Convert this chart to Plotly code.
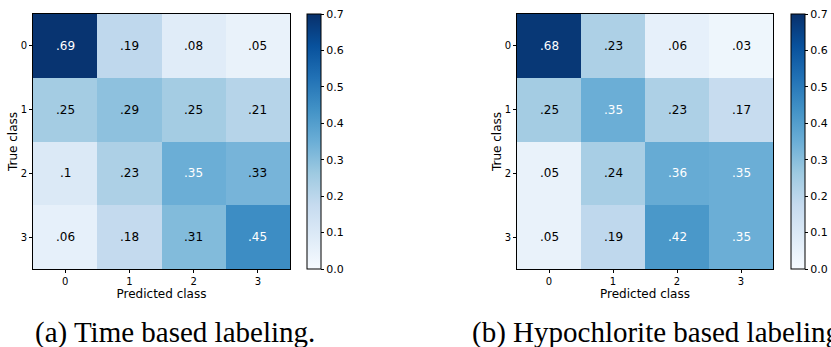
import plotly.graph_objects as go

classes = [0, 1, 2, 3]
time_vals = [
    [0.69, 0.19, 0.08, 0.05],
    [0.25, 0.29, 0.25, 0.21],
    [0.10, 0.23, 0.35, 0.33],
    [0.06, 0.18, 0.31, 0.45],
]
hypo_vals = [
    [0.68, 0.23, 0.06, 0.03],
    [0.25, 0.35, 0.23, 0.17],
    [0.05, 0.24, 0.36, 0.35],
    [0.05, 0.19, 0.42, 0.35],
]
cbar_ticks = [0.0, 0.1, 0.2, 0.3, 0.4, 0.5, 0.6, 0.7]
captions = ["(a) Time based labeling.", "(b) Hypochlorite based labeling."]

W, H = 831, 347
def px(x): return x / W
def py(y): return 1 - y / H

fig = go.Figure()
panels = [
    (time_vals, (33, 290), 307, "x", "y", "", ""),
    (hypo_vals, (517, 773), 791, "x2", "y2", "2", "2"),
]
top, bot = 14, 269
annotations = []
for vals, (x0, x1), cbx, xa, ya, xs, ys in panels:
    fig.add_trace(go.Heatmap(
        z=vals, x=classes, y=classes, colorscale="Blues", zmin=0, zmax=0.7,
        xaxis=xa, yaxis=ya, hoverinfo="skip",
        colorbar=dict(
            x=px(cbx), xanchor="left", xref="paper",
            y=py((top + bot) / 2), yanchor="middle",
            len=bot - top, lenmode="pixels",
            thickness=14, thicknessmode="pixels",
            outlinewidth=1, outlinecolor="black",
            tickvals=cbar_ticks, ticktext=[f"{t:.1f}" for t in cbar_ticks],
            ticks="outside", ticklen=3, tickcolor="black",
            tickfont=dict(family="DejaVu Sans", size=11, color="black"),
            xpad=0, ypad=0,
        ),
    ))
    vmax = max(max(r) for r in vals)
    for i, row in enumerate(vals):
        for j, v in enumerate(row):
            s = f"{v:.2f}".lstrip("0")
            if s.endswith("0"):
                s = s[:-1]
            annotations.append(dict(
                x=classes[j], y=classes[i], xref=xa, yref=ya, text=s, showarrow=False,
                font=dict(family="DejaVu Sans", size=12,
                          color="white" if v > vmax / 2 else "black"),
            ))
    axcommon = dict(showline=True, mirror=True, linecolor="black", linewidth=1,
                    ticks="outside", ticklen=3, tickcolor="black", showgrid=False,
                    zeroline=False, tickvals=classes, automargin=False,
                    tickfont=dict(family="DejaVu Sans", size=10, color="black"))
    fig.layout["xaxis" + xs] = dict(domain=[px(x0), px(x1)], anchor=ya,
                                    title=dict(text="Predicted class", standoff=2,
                                               font=dict(family="DejaVu Sans", size=12, color="black")),
                                    **axcommon)
    fig.layout["yaxis" + ys] = dict(domain=[py(bot), py(top)], anchor=xa, autorange="reversed",
                                    title=dict(text="True class", standoff=0,
                                               font=dict(family="DejaVu Sans", size=12, color="black")),
                                    **axcommon)

annotations.append(dict(x=px(33), y=py(332), xref="paper", yref="paper", text=captions[0],
                        showarrow=False, xanchor="left", yanchor="middle",
                        font=dict(family="Liberation Serif", size=29, color="black")))
annotations.append(dict(x=px(470), y=py(332), xref="paper", yref="paper", text=captions[1],
                        showarrow=False, xanchor="left", yanchor="middle",
                        font=dict(family="Liberation Serif", size=29, color="black")))

fig.update_layout(width=W, height=H, margin=dict(l=0, r=0, t=0, b=0, autoexpand=False),
                  paper_bgcolor="white", plot_bgcolor="white",
                  annotations=annotations, showlegend=False)
fig.write_html("out.html", config={"displayModeBar": False},
               post_script="document.body.style.margin='0';document.body.style.overflow='hidden';")
